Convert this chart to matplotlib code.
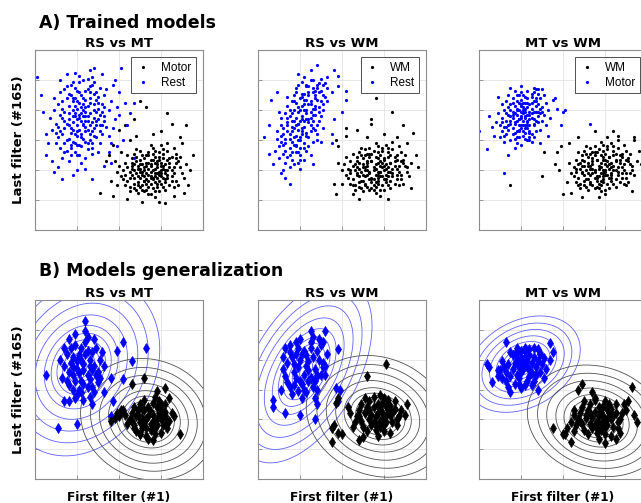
import numpy as np
import matplotlib.pyplot as plt

# ---- A) trained models: projections on first / last filter
# axes units: x 0..80, y 0..120 (no tick labels in the original)
rs_mt_motor = [
    (55,39),(52,36),(58,42),(49,41),(61,35),(54,45),(57,32),(46,37),(63,40),(51,30),
    (59,47),(47,44),(56,28),(65,36),(53,50),(44,33),(60,31),(50,47),(62,44),(57,36),
    (48,27),(66,42),(54,33),(42,40),(59,52),(52,42),(64,30),(45,29),(58,38),(68,46),
    (50,35),(55,24),(61,48),(47,51),(67,33),(53,38),(43,45),(60,40),(56,55),(49,32),
    (70,38),(51,44),(58,29),(46,48),(63,53),(55,43),(41,36),(62,27),(48,38),(65,49),
    (57,45),(53,27),(44,42),(60,36),(50,53),(69,42),(56,34),(47,31),(64,45),(52,48),
    (59,33),(45,39),(66,29),(54,52),(61,41),(49,25),(57,49),(43,30),(63,37),(51,39),
    (67,51),(55,31),(46,45),(60,57),(52,26),(71,35),(58,44),(48,49),(62,32),(54,41),
    (40,43),(65,40),(50,29),(57,38),(44,50),(61,54),(53,34),(68,30),(47,35),(59,26),
    (56,47),(42,34),(64,48),(51,50),(58,35),(66,55),(49,43),(55,36),(62,38),(45,26),
    (72,44),(53,45),(60,43),(48,54),(57,22),(63,58),(46,41),(54,29),(69,49),(52,33),
    (39,30),(59,39),(50,41),(65,33),(56,51),(43,37),(61,29),(67,45),(55,57),(47,28),
    (54,37),(57,41),(52,40),(59,37),(55,44),(50,39),(58,46),(53,31),(61,43),(56,35),
    (49,36),(63,47),(54,50),(60,38),(51,27),(57,26),(47,40),(62,34),(55,47),(52,33),
    (64,42),(48,46),(59,49),(53,43),(58,31),(66,38),(50,44),(56,40),(61,51),(45,35),
    (54,24),(67,48),(51,37),(60,45),(57,53),(49,30),(63,35),(55,35),(46,43),(62,40),
    (50,86),(53,82),(63,78),(65,71),(72,70),(69,62),(47,74),(43,70),(40,67),(37,57),
    (31,25),(37,23),(51,19),(75,50),(74,40),(39,39),(35,50),(34,46),(56,64),(45,60),
    (70,58),(73,30),(60,66),(41,52),(36,33),(44,21),(66,23),(59,19),(48,63),(71,25),
    (38,46),(62,18),
]
rs_mt_rest = [
    (22,73),(20,70),(25,76),(18,80),(24,66),(27,72),(16,74),(21,85),(23,61),(29,79),
    (19,64),(26,88),(14,68),(31,70),(17,90),(24,79),(20,57),(28,63),(12,77),(25,94),
    (22,82),(18,72),(30,85),(15,60),(33,76),(21,67),(26,70),(13,86),(23,100),(19,52),
    (27,58),(10,71),(29,92),(17,65),(24,87),(32,64),(16,83),(20,93),(35,80),(11,62),
    (25,54),(21,77),(28,84),(14,79),(23,70),(18,59),(30,74),(22,90),(26,64),(15,88),
    (34,69),(19,76),(27,97),(12,55),(24,73),(31,58),(17,97),(20,81),(36,86),(9,80),
    (28,68),(22,56),(16,70),(25,83),(33,90),(13,64),(21,99),(29,62),(18,86),(24,48),
    (38,74),(11,84),(26,78),(20,63),(31,95),(15,53),(23,88),(27,51),(8,67),(35,63),
    (19,95),(30,81),(14,73),(22,64),(32,84),(17,57),(25,101),(12,92),(28,75),(21,50),
    (37,68),(16,78),(24,59),(10,58),(29,87),(20,74),(34,94),(13,48),(26,92),(18,67),
    (39,82),(23,80),(7,75),(31,66),(19,88),(27,55),(15,96),(22,45),(33,73),(11,69),
    (25,67),(36,58),(17,50),(28,99),(9,88),(30,52),(21,103),(14,58),(26,60),(40,77),
    (19,83),(24,93),(12,100),(32,79),(16,46),(23,76),(29,70),(18,99),(35,52),(13,81),
    (21,75),(23,71),(19,78),(25,73),(20,66),(24,82),(17,68),(26,85),(22,62),(18,88),
    (28,80),(15,71),(21,92),(27,66),(19,58),(24,76),(13,75),(29,73),(16,91),(23,84),
    (20,50),(26,96),(12,66),(30,89),(22,78),(17,55),(25,58),(14,94),(28,91),(21,57),
    (18,76),(31,77),(10,65),(24,69),(33,82),(16,61),(27,102),(20,86),(14,52),(32,70),
    (1,102),(5,50),(5,64),(9,39),(13,34),(18,37),(27,34),(28,108),(19,105),(32,104),
    (41,108),(38,100),(43,85),(47,85),(39,56),(47,48),(42,60),(44,70),(6,58),(4,79),
    (8,46),(20,40),(24,41),(36,45),(40,92),(33,43),(45,78),(11,42),(3,90),(26,107),
    (15,104),(37,97),
]
rs_wm_wm = [
    (55,40),(52,37),(58,43),(50,42),(62,36),(54,46),(57,33),(47,38),(64,41),(51,31),
    (60,48),(48,45),(56,29),(66,37),(53,51),(45,34),(61,32),(50,48),(63,45),(57,37),
    (49,28),(67,43),(54,34),(43,41),(59,53),(52,43),(65,31),(46,30),(58,39),(69,47),
    (51,36),(56,25),(62,49),(48,52),(68,34),(53,39),(44,46),(61,41),(57,56),(50,33),
    (71,39),(52,45),(59,30),(47,49),(64,54),(56,44),(42,37),(63,28),(49,39),(66,50),
    (58,46),(54,28),(45,43),(61,37),(51,54),(70,43),(57,35),(48,32),(65,46),(53,49),
    (60,34),(46,40),(67,30),(55,53),(62,42),(50,26),(58,50),(44,31),(64,38),(52,40),
    (68,52),(56,32),(47,46),(61,57),(53,27),(72,36),(59,45),(49,50),(63,33),(55,42),
    (41,44),(66,41),(51,30),(58,39),(45,51),(62,55),(54,35),(69,31),(48,36),(60,27),
    (57,48),(43,35),(65,49),(52,51),(59,36),(67,56),(50,44),(56,37),(63,39),(46,27),
    (73,45),(54,46),(61,44),(49,55),(58,23),(64,59),(47,42),(55,30),(70,50),(53,34),
    (40,31),(60,40),(51,42),(66,34),(57,52),(44,38),(62,30),(68,46),(56,58),(48,29),
    (56,41),(53,38),(59,42),(51,40),(57,45),(62,39),(54,32),(60,47),(48,41),(58,36),
    (65,43),(52,46),(55,27),(63,50),(50,37),(67,39),(57,31),(46,44),(61,34),(54,51),
    (69,45),(59,55),(49,33),(64,36),(56,49),(52,29),(66,47),(47,37),(60,43),(53,55),
    (71,42),(58,27),(44,40),(62,52),(55,34),(68,37),(51,50),(63,45),(57,39),(45,30),
    (56,88),(64,79),(69,70),(74,65),(42,68),(42,63),(47,67),(54,74),(54,71),(37,60),
    (36,31),(37,24),(48,21),(75,50),(42,49),(38,56),(60,64),(73,28),(40,40),(66,62),
    (45,24),(62,21),(71,58),(38,45),(52,62),(76,42),
]
rs_wm_rest = [
    (20,73),(18,70),(23,78),(16,66),(22,84),(25,75),(14,72),(19,60),(27,88),(21,68),
    (17,80),(24,62),(12,64),(26,95),(20,55),(29,82),(15,76),(22,91),(18,52),(28,70),
    (13,58),(25,86),(19,79),(23,65),(11,70),(30,93),(16,47),(21,99),(24,72),(14,83),
    (27,77),(18,63),(32,89),(20,88),(12,51),(26,81),(17,73),(22,58),(29,98),(15,61),
    (24,90),(10,56),(21,76),(28,64),(19,45),(25,70),(13,78),(31,84),(18,85),(23,53),
    (16,69),(26,100),(20,62),(9,66),(27,93),(14,49),(22,80),(30,76),(17,57),(24,96),
    (11,75),(21,83),(28,87),(19,67),(15,42),(25,66),(33,95),(18,92),(13,61),(23,74),
    (29,79),(20,50),(16,86),(26,59),(22,102),(12,68),(31,90),(18,75),(24,56),(10,48),
    (27,83),(21,64),(15,55),(32,98),(19,97),(25,79),(14,66),(23,87),(17,44),(29,73),
    (20,80),(11,59),(26,92),(22,69),(16,73),(30,101),(13,45),(24,84),(18,57),(28,95),
    (21,91),(9,61),(27,67),(15,80),(25,50),(19,71),(33,86),(12,40),(23,97),(17,62),
    (8,53),(20,41),(35,92),(14,89),(26,73),(22,47),(31,80),(16,52),(28,60),(10,79),
    (21,74),(19,71),(23,80),(17,68),(22,87),(20,60),(25,84),(16,78),(24,92),(18,56),
    (26,77),(14,70),(23,96),(19,82),(12,57),(27,90),(21,66),(15,64),(28,97),(20,47),
    (24,74),(17,86),(29,92),(13,53),(22,73),(26,68),(18,95),(11,63),(30,86),(16,59),
    (25,100),(19,52),(23,63),(14,75),(27,81),(21,89),(15,50),(31,97),(22,55),(17,90),
    (28,110),(36,107),(38,103),(42,93),(42,87),(40,79),(35,64),(35,58),(3,62),(5,51),
    (15,31),(6,87),(11,38),(7,44),(13,35),(25,107),(33,102),(38,96),(9,92),(31,68),
    (36,74),(5,70),(19,104),(30,59),(26,44),
]
mt_wm_wm = [
    (57,41),(54,38),(60,44),(52,43),(63,37),(56,47),(59,34),(49,39),(66,42),(53,32),
    (62,49),(50,46),(58,30),(68,38),(55,52),(47,35),(63,33),(52,49),(65,46),(59,38),
    (51,29),(69,44),(56,35),(45,42),(61,54),(54,44),(67,32),(48,31),(60,40),(71,48),
    (53,37),(58,26),(64,50),(50,53),(70,35),(55,40),(46,47),(63,42),(59,57),(52,34),
    (73,40),(54,46),(61,31),(49,50),(66,55),(58,45),(44,38),(65,29),(51,40),(68,51),
    (60,47),(56,29),(47,44),(63,38),(53,55),(72,44),(59,36),(50,33),(67,47),(55,50),
    (62,35),(48,41),(69,31),(57,54),(64,43),(52,27),(60,51),(46,32),(66,39),(54,41),
    (70,53),(58,33),(49,47),(63,58),(55,28),(74,37),(61,46),(51,51),(65,34),(57,43),
    (43,45),(68,42),(53,31),(60,39),(47,52),(64,56),(56,36),(71,32),(50,37),(62,28),
    (59,49),(45,36),(67,50),(54,52),(61,37),(69,57),(52,45),(58,38),(65,40),(48,28),
    (75,46),(56,47),(63,45),(51,56),(60,24),(66,60),(49,43),(57,31),(72,51),(55,35),
    (42,32),(62,41),(53,43),(68,35),(59,53),(46,39),(64,31),(70,47),(58,59),(50,30),
    (58,42),(55,39),(61,43),(53,41),(59,47),(64,40),(56,33),(62,49),(50,43),(60,37),
    (67,45),(54,48),(57,28),(65,51),(52,38),(69,40),(59,32),(48,45),(63,35),(56,52),
    (71,46),(61,56),(51,34),(66,37),(58,50),(54,30),(68,49),(49,38),(62,44),(55,56),
    (73,43),(60,27),(46,41),(64,53),(57,36),(70,38),(53,51),(65,47),(59,40),(47,30),
    (30,36),(15,30),(31,52),(37,52),(39,56),(47,62),(55,66),(64,66),(66,63),(74,62),
    (74,60),(40,24),(49,22),(70,30),(72,38),(77,44),(36,44),(44,25),(76,53),(38,40),
    (61,62),(43,58),(73,26),(57,22),
]
mt_wm_motor = [
    (20,76),(18,73),(22,79),(17,78),(23,72),(19,70),(21,82),(16,75),(24,77),(20,68),
    (25,81),(15,71),(22,85),(18,66),(26,74),(19,80),(23,68),(14,77),(21,73),(27,79),
    (17,83),(24,70),(20,87),(13,73),(25,64),(18,77),(28,84),(22,65),(16,68),(23,88),
    (11,75),(26,70),(19,62),(29,78),(21,90),(14,67),(27,86),(24,62),(12,80),(20,79),
    (30,82),(17,61),(22,75),(15,84),(25,89),(10,70),(28,72),(19,85),(23,60),(26,92),
    (13,64),(21,70),(31,77),(16,88),(18,58),(24,84),(9,78),(27,66),(20,92),(29,88),
    (15,60),(22,81),(12,69),(32,85),(19,74),(25,59),(14,82),(28,91),(17,71),(23,93),
    (11,66),(30,73),(21,63),(26,86),(16,79),(33,80),(20,57),(24,74),(13,86),(27,94),
    (18,90),(22,70),(10,62),(29,67),(15,73),(25,78),(31,90),(19,66),(12,59),(23,82),
    (34,75),(17,93),(26,62),(21,85),(8,72),(28,79),(14,90),(24,66),(20,83),(30,94),
    (16,64),(35,87),(22,61),(27,73),(13,69),(25,85),(18,81),(32,70),(11,84),(23,77),
    (21,78),(19,74),(22,76),(18,80),(24,79),(17,72),(20,84),(23,70),(16,77),(25,75),
    (19,67),(22,89),(26,79),(15,80),(21,66),(27,83),(18,86),(24,65),(14,70),(20,75),
    (28,76),(13,78),(23,85),(17,65),(26,71),(19,90),(29,81),(22,68),(11,72),(25,91),
    (16,85),(24,60),(21,80),(12,63),(30,79),(18,62),(27,88),(20,70),(15,76),(23,73),
    (0,66),(4,54),(12,38),(14,50),(40,79),(39,70),(53,71),(9,89),(6,69),(15,95),
    (20,96),(26,95),(28,94),(36,88),(7,63),(33,63),(37,81),(17,55),(5,76),(29,58),
    (41,80),
]

# ---- B) models generalization: test projections
gen_rs_mt_rest = [
    (24,106),(5,70),(11,34),(20,37),(53,88),(46,79),(42,67),(42,92),(39,86),(36,68),
    (37,52),(36,42),(33,58),(27,50),(14,52),(16,52),
    (23,77),(20,74),(26,80),(18,82),(25,70),(22,88),(19,66),(28,76),(16,72),(24,92),
    (21,60),(27,85),(17,78),(30,72),(23,64),(19,90),(26,67),(14,76),(29,88),(22,80),
    (18,60),(25,95),(15,84),(31,80),(21,71),(27,62),(13,68),(24,84),(20,56),(28,94),
    (17,88),(23,73),(30,65),(16,63),(26,76),(19,97),(22,58),(29,70),(14,88),(25,62),
    (18,70),(32,85),(21,83),(26,55),(15,66),(24,99),(20,79),(27,73),(12,80),(23,53),
    (33,76),(18,75),(28,58),(22,66),(16,94),(25,86),(31,68),(19,54),
]
gen_rs_mt_motor = [
    (46,64),(52,68),(62,61),(69,30),(56,26),(38,41),(36,39),(42,46),(47,34),(60,50),
    (64,54),(58,59),(62,42),(66,42),(50,30),
    (53,40),(50,38),(56,43),(48,42),(58,36),(52,46),(55,33),(60,40),(47,36),(54,48),
    (57,30),(51,34),(62,45),(49,46),(59,52),(45,40),(56,38),(53,29),(61,36),(50,50),
    (64,39),(55,45),(48,32),(58,48),(52,36),(60,31),(46,44),(57,55),(54,42),(63,34),
    (51,41),(59,44),(47,48),(55,37),(62,50),(50,30),(56,51),(44,37),(58,40),(53,34),
    (65,44),(49,43),(61,42),(52,53),(57,34),(54,27),(60,47),(46,39),(63,38),(51,47),
    (43,43),(39,44),(41,46),(40,42),
]
gen_rs_wm_rest = [
    (25,99),(32,99),(38,87),(31,92),(7,53),(7,48),(13,44),(20,43),(27,40),(28,50),
    (38,52),(39,60),(37,61),(27,54),(31,75),(32,70),(28,69),(25,68),
    (20,80),(23,76),(17,72),(26,82),(15,85),(22,70),(19,88),(25,68),(14,78),(28,86),
    (21,64),(18,92),(24,79),(13,69),(27,74),(16,82),(30,90),(22,60),(19,75),(26,95),
    (12,74),(24,66),(17,63),(29,80),(21,84),(15,90),(23,58),(28,70),(14,65),(25,88),
    (18,68),(31,78),(20,94),(26,62),(16,57),(22,86),(12,82),(27,66),(19,59),(24,73),
    (30,70),(17,77),(21,54),(33,84),(15,62),(25,92),(13,88),(28,60),(20,66),(23,83),
    (11,60),(29,94),(18,84),(32,76),
]
gen_rs_wm_wm = [
    (61,77),(52,69),(51,54),(58,56),(71,50),(70,43),(35,25),(35,34),(38,31),(36,36),
    (38,54),(37,51),(40,30),(48,26),
    (56,42),(53,40),(59,45),(51,44),(61,38),(55,48),(58,35),(63,43),(49,39),(57,50),
    (60,32),(54,36),(65,47),(52,48),(62,53),(47,42),(59,40),(56,33),(64,38),(53,52),
    (67,42),(58,47),(50,35),(61,49),(55,38),(63,31),(48,46),(60,54),(57,44),(66,36),
    (54,43),(62,46),(49,50),(58,39),(65,52),(52,32),(59,51),(46,38),(61,42),(56,36),
    (68,46),(51,45),(64,44),(55,55),(60,37),(57,29),(63,49),(48,42),(66,40),(53,46),
    (44,44),(45,35),(43,48),(50,28),
]
gen_mt_wm_motor = [
    (13,92),(34,91),(35,85),(34,80),(5,75),(6,65),(15,58),(20,61),(28,60),(4,77),
    (17,84),(18,88),(29,84),(31,68),(9,73),(11,68),
    (21,77),(19,75),(23,79),(17,78),(24,74),(20,72),(22,82),(16,74),(25,78),(18,70),
    (26,82),(14,77),(22,86),(19,68),(27,75),(20,81),(24,69),(13,72),(21,74),(28,79),
    (16,83),(25,71),(20,86),(12,75),(26,66),(18,79),(29,84),(23,66),(15,69),(24,87),
    (10,73),(27,70),(19,64),(30,77),(22,88),(13,66),(28,87),(25,63),(11,79),(20,79),
    (31,81),(17,64),(23,75),(15,85),(26,88),(9,69),(29,72),(18,84),(22,63),(32,74),
    (14,62),(24,83),
]
gen_mt_wm_wm = [
    (49,64),(73,62),(35,34),(41,30),(44,25),(65,27),(60,24),(74,43),(75,38),(47,60),
    (54,58),(55,54),(69,50),(71,52),(45,43),(44,38),(42,34),(40,30),(45,32),
    (56,39),(53,37),(59,42),(51,41),(61,36),(55,45),(58,33),(63,40),(49,37),(57,48),
    (60,30),(54,34),(65,44),(52,46),(62,50),(47,40),(59,38),(56,31),(64,35),(53,50),
    (67,40),(58,45),(50,33),(61,47),(55,36),(63,29),(48,44),(60,52),(57,42),(66,34),
    (54,41),(62,44),(49,48),(58,37),(65,50),(52,30),(59,49),(46,36),(61,40),(56,34),
    (68,44),(51,43),(64,42),(55,53),(60,35),(57,27),(63,47),(48,39),(66,38),(53,44),
    (70,46),(45,46),(50,52),(67,31),
]

# gaussian fits shown as contours: (mean x, mean y, sd x, sd y, corr)
fit_rs_mt_rest = (22, 75, 11, 17.5, 0.2)
fit_rs_mt_motor = (54, 40, 9.5, 12, -0.1)
fit_rs_wm_rest = (22, 72, 9.5, 18, 0.5)
fit_rs_wm_wm = (57, 42, 10, 12, -0.15)
fit_mt_wm_motor = (21, 77, 8, 9.5, 0.3)
fit_mt_wm_wm = (56, 39, 9.7, 11, -0.15)

titles = ["RS vs MT", "RS vs WM", "MT vs WM"]
legend_labels = [("Motor", "Rest"), ("WM", "Rest"), ("WM", "Motor")]
top_sets = [(rs_mt_motor, rs_mt_rest), (rs_wm_wm, rs_wm_rest), (mt_wm_wm, mt_wm_motor)]
bottom_sets = [(gen_rs_mt_motor, gen_rs_mt_rest), (gen_rs_wm_wm, gen_rs_wm_rest),
               (gen_mt_wm_wm, gen_mt_wm_motor)]
bottom_fits = [(fit_rs_mt_motor, fit_rs_mt_rest), (fit_rs_wm_wm, fit_rs_wm_rest),
               (fit_mt_wm_wm, fit_mt_wm_motor)]

BLUE = '#0000ff'
levels = [0.25, 0.42, 0.6, 0.8, 1.05, 1.3, 1.6, 2.0, 2.45, 2.9, 3.4]


def xy(p):
    a = np.array(p, dtype=float)
    return a[:, 0], a[:, 1]


def style(ax):
    ax.set_xlim(0, 80)
    ax.set_ylim(0, 120)
    ax.set_xticks([20, 40, 60])
    ax.set_yticks([20, 40, 60, 80, 100])
    ax.set_xticklabels([])
    ax.set_yticklabels([])
    ax.tick_params(direction='in', length=3, color='#888888', width=0.6)
    ax.grid(True, color='#e4e4e4', lw=0.6)
    ax.set_axisbelow(True)
    for s in ax.spines.values():
        s.set_color('#8c8c8c')
        s.set_linewidth(0.8)


gx, gy = np.meshgrid(np.linspace(-20, 100, 121), np.linspace(-20, 140, 161))


def maha(fit):
    mx, my, sx, sy, r = fit
    u = (gx - mx) / sx
    v = (gy - my) / sy
    return np.sqrt((u * u - 2 * r * u * v + v * v) / (1 - r * r))


W, H = 641, 503
lefts = [35, 258, 479]
fig = plt.figure(figsize=(6.41, 5.03), dpi=100)

fig.text(39 / W, 1 - 28.5 / H, "A) Trained models", fontsize=12.5, fontweight='bold')
fig.text(39 / W, 1 - 276.5 / H, "B) Models generalization", fontsize=12.5, fontweight='bold')

for i in range(3):
    # top row
    ax = fig.add_axes([lefts[i] / W, 1 - 230 / H, 168 / W, 180 / H])
    style(ax)
    blk, blu = top_sets[i]
    ax.plot(*xy(blk), '.', color='black', ms=4.6, mew=0, label=legend_labels[i][0])
    ax.plot(*xy(blu), '.', color=BLUE, ms=4.6, mew=0, label=legend_labels[i][1])
    ax.set_title(titles[i], fontsize=9.5, fontweight='bold', pad=2)
    leg = ax.legend(loc='upper right', prop={'family': 'Liberation Sans', 'size': 8.5},
                    fancybox=False, framealpha=1, edgecolor='#333333',
                    handlelength=1.2, handletextpad=0.9, borderaxespad=0.6,
                    labelspacing=0.25, markerscale=1.0)
    leg.get_frame().set_linewidth(0.6)
    if i == 0:
        ax.set_ylabel("Last filter (#165)", fontsize=9.5, fontweight='bold')
        ax.yaxis.set_label_coords(-0.06, 0.5)

    # bottom row
    ax = fig.add_axes([lefts[i] / W, 1 - 479 / H, 168 / W, 179 / H])
    style(ax)
    fb, fu = bottom_fits[i]
    ax.contour(gx, gy, maha(fu), levels=levels, colors='#6060ff', linewidths=0.6)
    ax.contour(gx, gy, maha(fb), levels=levels, colors='#505050', linewidths=0.6)
    blk, blu = bottom_sets[i]
    ax.plot(*xy(blu), 'd', color=BLUE, ms=5.5, mew=0.5)
    ax.plot(*xy(blk), 'd', color='black', ms=5.5, mew=0.5)
    ax.set_title(titles[i], fontsize=9.5, fontweight='bold', pad=2)
    ax.set_xlabel("First filter (#1)", fontsize=8.7, fontweight='bold')
    ax.xaxis.set_label_coords(0.5, -0.065)
    if i == 0:
        ax.set_ylabel("Last filter (#165)", fontsize=9.5, fontweight='bold')
        ax.yaxis.set_label_coords(-0.06, 0.5)

fig.savefig("out.png", dpi=100)
